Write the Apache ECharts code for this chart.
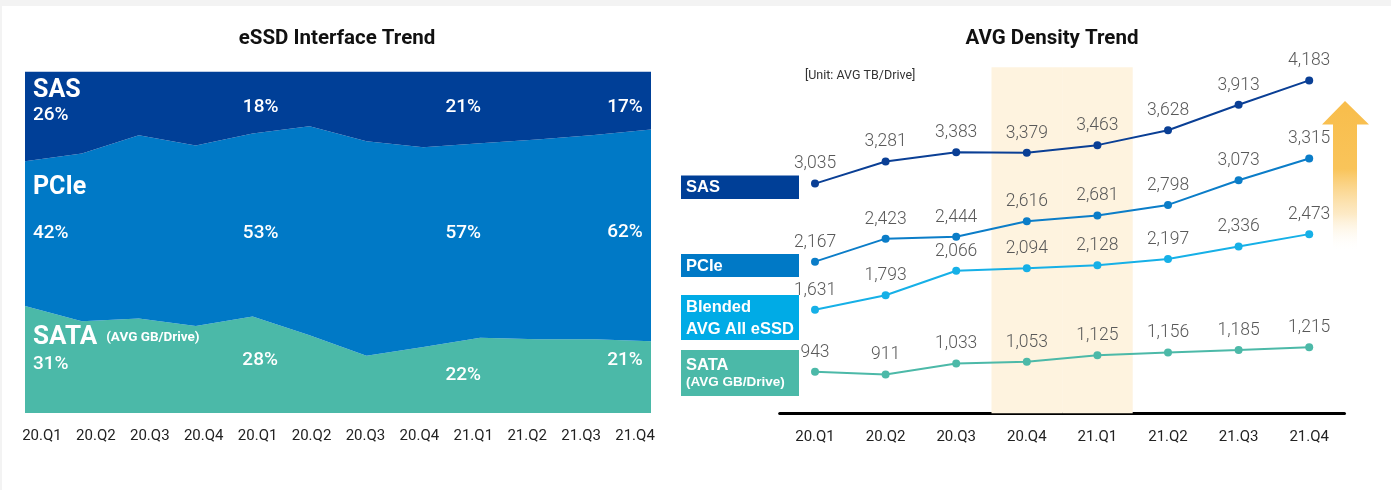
<!DOCTYPE html>
<html><head><meta charset="utf-8">
<script src="https://cdn.jsdelivr.net/npm/echarts@6/dist/echarts.min.js"></script>
<style>html,body{margin:0;padding:0;background:#fff}#c{width:1391px;height:490px}</style>
</head><body><div id="c"></div>
<script>
// ---------- Left chart: eSSD Interface Trend (share, %) ----------
const shareCategories = ['20.Q1','20.Q2','20.Q3','20.Q4','20.Q1','20.Q2','20.Q3','20.Q4','21.Q1','21.Q2','21.Q3','21.Q4'];
const sataShare = [31, 26.9, 27.7, 25.5, 28, 22.8, 16.8, 19.3, 22, 21.6, 21.6, 21];
const pcieShare = [42, 49.1, 53.6, 52.8, 53, 61.2, 62.8, 58.5, 57, 58.5, 59.8, 62];
const sasShare  = [26, 24, 18.7, 21.7, 18, 16, 20.4, 22.2, 21, 19.9, 18.6, 17];
const shareLabelIdx = [0, 4, 8, 11];

// ---------- Right chart: AVG Density Trend ----------
const densityCategories = ['20.Q1','20.Q2','20.Q3','20.Q4','21.Q1','21.Q2','21.Q3','21.Q4'];
const sasDensity     = [3035, 3281, 3383, 3379, 3463, 3628, 3913, 4183];
const pcieDensity    = [2167, 2423, 2444, 2616, 2681, 2798, 3073, 3315];
const blendedDensity = [1631, 1793, 2066, 2094, 2128, 2197, 2336, 2473];
const sataDensity    = [943, 911, 1033, 1053, 1125, 1156, 1185, 1215];
const highlightCategories = ['20.Q4', '21.Q1'];
const densityAxisMin = 480, densityAxisMax = 4330;

// ---------- styles ----------
const C = {
  sas: '#003f97', pcie: '#0079c6', sata: '#4bb9a8', blended: '#00abe6',
  sasLine: '#0a3f95', pcieLine: '#0b7dc8', blendedLine: '#16b0e7', sataLine: '#4cb9a8',
  band: '#fef3df'
};
const NUM_FONT = 'Roboto, "Noto Sans", sans-serif';
const AXIS_FONT = 'Roboto, sans-serif';

const totals = sataShare.map((v, i) => v + pcieShare[i] + sasShare[i]);

const labelStyles = {
  sas: {
    0: { align: 'left', verticalAlign: 'top', offset: [8, 6], rich: true },
    4: { offset: [8, 35.5] }, 8: { offset: [-17, 35.5] }, 11: { offset: [-26, 35.5] }
  },
  pcie: {
    0: { align: 'left', verticalAlign: 'top', offset: [8, 14], rich: true },
    4: { offset: [8, 100] }, 8: { offset: [-17, 90.3] }, 11: { offset: [-26, 103] }
  },
  sata: {
    0: { align: 'left', verticalAlign: 'top', offset: [8, 17.4], rich: true },
    4: { offset: [7.5, 44] }, 8: { offset: [-17, 37] }, 11: { offset: [-26, 19] }
  }
};
const richStyles = {
  name: { fontFamily: NUM_FONT, fontSize: 25, fontWeight: 'bold', color: '#fff', lineHeight: 26 },
  sataName: { fontFamily: NUM_FONT, fontSize: 26, fontWeight: 'bold', color: '#fff', lineHeight: 28 },
  sub: { fontFamily: NUM_FONT, fontSize: 13.5, fontWeight: 'bold', color: '#fff', padding: [0, 0, 0, 9] },
  pct: { fontFamily: NUM_FONT, fontSize: 19, fontWeight: 500, color: '#fff', lineHeight: 24 },
  pctSata: { fontFamily: NUM_FONT, fontSize: 19, fontWeight: 500, color: '#fff', lineHeight: 26 },
  pctFar: { fontFamily: NUM_FONT, fontSize: 19, fontWeight: 500, color: '#fff', lineHeight: 65 }
};
const seriesTitles = {
  sas: v => `{name|SAS}\n{pct|${v}%}`,
  pcie: v => `{name|PCIe}\n{pctFar|${v}%}`,
  sata: v => `{sataName|SATA}{sub|(AVG GB/Drive)}\n{pctSata|${v}%}`
};

function shareData(key, arr) {
  return arr.map((v, i) => {
    const item = { value: v / totals[i] * 100, raw: v };
    if (shareLabelIdx.includes(i)) {
      const st = labelStyles[key][i];
      item.label = {
        show: true, position: 'inside',
        align: st.align || 'center', verticalAlign: st.verticalAlign || 'middle',
        offset: st.offset,
        formatter: st.rich ? seriesTitles[key](v) : `${v}%`,
        rich: richStyles,
        color: '#fff', fontFamily: NUM_FONT, fontSize: 19, fontWeight: 500
      };
    }
    return item;
  });
}

function areaSeries(name, key, arr, color) {
  return {
    name, type: 'line', stack: 'share', xAxisIndex: 0, yAxisIndex: 0,
    data: shareData(key, arr),
    symbol: 'circle', symbolSize: 1, showSymbol: true, showAllSymbol: true,
    itemStyle: { color: 'rgba(0,0,0,0)', borderWidth: 0 },
    lineStyle: { width: 0, color: color },
    areaStyle: { color: color, opacity: 1 },
    label: { show: false },
    silent: true, emphasis: { disabled: true }, z: 2
  };
}

function densitySeries(name, arr, color) {
  return {
    name, type: 'line', xAxisIndex: 2, yAxisIndex: 2, data: arr,
    symbol: 'circle', symbolSize: 8,
    itemStyle: { color: color, borderWidth: 0 },
    lineStyle: { width: 2, color: color },
    label: {
      show: true, position: 'top', distance: 6.5,
      color: '#595959', fontFamily: NUM_FONT, fontSize: 17.5, fontWeight: 300,
      formatter: p => p.value.toLocaleString('en-US')
    },
    silent: true, emphasis: { disabled: true }, z: 3
  };
}

const boxes = [
  { y: 175.5, h: 23.5, fill: C.sas, lines: [['SAS', 16.5, 187.5]] },
  { y: 254, h: 23, fill: C.pcie, lines: [['PCIe', 16.5, 266]] },
  { y: 295, h: 45, fill: C.blended, lines: [['Blended', 16.5, 307], ['AVG All eSSD', 16.5, 329]] },
  { y: 350, h: 46, fill: C.sata, lines: [['SATA', 16.5, 365.5], ['(AVG GB/Drive)', 13.5, 382.5]] }
];
const boxGraphics = [];
boxes.forEach(b => {
  boxGraphics.push({ type: 'rect', shape: { x: 681, y: b.y, width: 118, height: b.h }, style: { fill: b.fill }, silent: true });
  b.lines.forEach(([t, fs, cy]) => boxGraphics.push({
    type: 'text', x: 686, y: cy,
    style: { text: t, fill: '#fff', font: `bold ${fs}px "Liberation Sans", Arial, sans-serif`, align: 'left', verticalAlign: 'middle' },
    silent: true
  }));
});

const option = {
  animation: false,
  backgroundColor: '#ffffff',
  grid: [
    { left: 25, right: 740, top: 71.5, bottom: 77 },
    { left: 15, right: 729, top: 71.5, bottom: 77 },
    { left: 779.7, right: 46.5, top: 67.2, bottom: 76.7 }
  ],
  xAxis: [
    { type: 'category', gridIndex: 0, data: shareCategories, boundaryGap: false, show: false },
    { type: 'category', gridIndex: 1, data: shareCategories, boundaryGap: true,
      axisLine: { show: false }, axisTick: { show: false },
      axisLabel: { margin: 16, color: '#222', fontFamily: AXIS_FONT, fontSize: 15, interval: 0 } },
    { type: 'category', gridIndex: 2, data: densityCategories, boundaryGap: true,
      axisLine: { show: true, lineStyle: { color: '#000', width: 3 } }, axisTick: { show: false },
      axisLabel: { margin: 16, color: '#222', fontFamily: AXIS_FONT, fontSize: 15, interval: 0 } }
  ],
  yAxis: [
    { type: 'value', gridIndex: 0, min: 0, max: 100, show: false },
    { type: 'value', gridIndex: 1, min: 0, max: 100, show: false },
    { type: 'value', gridIndex: 2, min: densityAxisMin, max: densityAxisMax, show: false }
  ],
  series: [
    areaSeries('SATA', 'sata', sataShare, C.sata),
    areaSeries('PCIe', 'pcie', pcieShare, C.pcie),
    areaSeries('SAS', 'sas', sasShare, C.sas),
    {
      name: 'highlight', type: 'bar', xAxisIndex: 2, yAxisIndex: 2,
      data: densityCategories.map(c => highlightCategories.includes(c) ? densityAxisMax : '-'),
      barWidth: '100%', barGap: '-100%', itemStyle: { color: C.band },
      silent: true, emphasis: { disabled: true }, z: 1
    },
    densitySeries('SAS', sasDensity, C.sasLine),
    densitySeries('PCIe', pcieDensity, C.pcieLine),
    densitySeries('Blended AVG All eSSD', blendedDensity, C.blendedLine),
    densitySeries('SATA', sataDensity, C.sataLine)
  ],
  graphic: [
    { type: 'rect', shape: { x: 0, y: 0, width: 1391, height: 6 }, style: { fill: '#f3f3f3' }, silent: true, z: -1 },
    { type: 'rect', shape: { x: 0, y: 0, width: 2, height: 490 }, style: { fill: '#f3f3f3' }, silent: true, z: -1 },
    { type: 'text', x: 337, y: 39, style: { text: 'eSSD Interface Trend', fill: '#111', font: 'bold 20.5px Roboto, sans-serif', align: 'center', verticalAlign: 'middle' }, silent: true },
    { type: 'text', x: 1052, y: 39, style: { text: 'AVG Density Trend', fill: '#111', font: 'bold 20.5px Roboto, sans-serif', align: 'center', verticalAlign: 'middle' }, silent: true },
    { type: 'text', x: 805, y: 76, style: { text: '[Unit: AVG TB/Drive]', fill: '#333', font: '12.5px Roboto, sans-serif', align: 'left', verticalAlign: 'middle' }, silent: true },
    {
      type: 'polygon', silent: true,
      shape: { points: [[1345, 101], [1369, 124.5], [1357, 124.5], [1357, 252], [1333, 252], [1333, 124.5], [1322, 124.5]] },
      style: { fill: { type: 'linear', x: 0, y: 0, x2: 0, y2: 1, colorStops: [
        { offset: 0, color: '#f8bd4b' }, { offset: 0.45, color: '#f9c45a' },
        { offset: 0.75, color: 'rgba(251,220,160,0.6)' }, { offset: 1, color: 'rgba(255,255,255,0)' }] } }
    }
  ].concat(boxGraphics)
};

const chart = echarts.init(document.getElementById('c'), null, { renderer: 'canvas' });
chart.setOption(option);
</script>
</body></html>
